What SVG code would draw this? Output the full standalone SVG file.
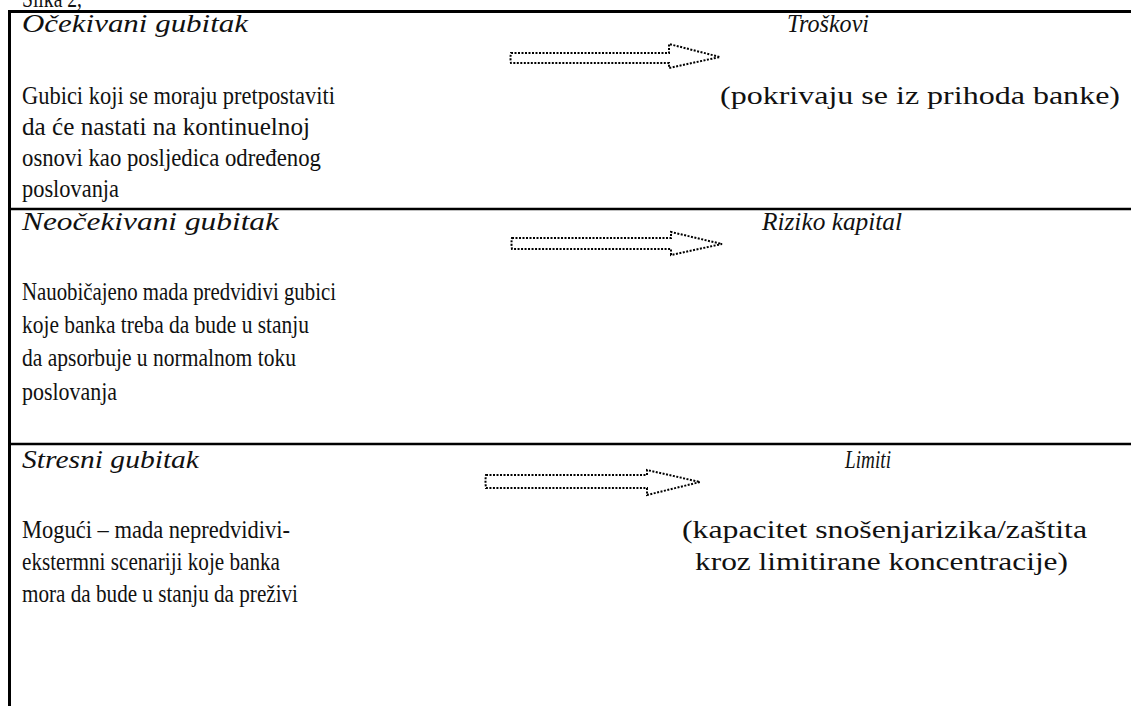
<svg xmlns="http://www.w3.org/2000/svg" width="1131" height="706" viewBox="0 0 1131 706">
<style>
.t{font-family:"Liberation Serif","Times New Roman",serif;font-size:25px;fill:#111}
.i{font-style:italic}
.rule{stroke:#000;fill:none}
.arr{fill:none;stroke:#000;stroke-width:2;stroke-dasharray:2 1.5}
</style>
<rect width="1131" height="706" fill="#fff"/>
<g id="frame">
<text class="t" x="22" y="7" textLength="60" lengthAdjust="spacingAndGlyphs">Slika 2,</text>
<line class="rule" x1="8" y1="11.5" x2="1131" y2="11.5" stroke-width="3"/>
<line class="rule" x1="9.5" y1="10" x2="9.5" y2="706" stroke-width="3"/>
<line class="rule" x1="8" y1="209" x2="1131" y2="209" stroke-width="2.5"/>
<line class="rule" x1="8" y1="444" x2="1131" y2="444" stroke-width="2.5"/>
</g>
<g id="ocekivani">
<text class="t i" x="22" y="32" textLength="226" lengthAdjust="spacingAndGlyphs">Očekivani gubitak</text>
<text class="t" x="22" y="104" textLength="313" lengthAdjust="spacingAndGlyphs">Gubici koji se moraju pretpostaviti</text>
<text class="t" x="22" y="135" textLength="288" lengthAdjust="spacingAndGlyphs">da će nastati na kontinuelnoj</text>
<text class="t" x="22" y="166" textLength="299" lengthAdjust="spacingAndGlyphs">osnovi kao posljedica određenog</text>
<text class="t" x="22" y="197" textLength="97" lengthAdjust="spacingAndGlyphs">poslovanja</text>
</g>
<g id="troskovi">
<text class="t i" x="787" y="32" textLength="82" lengthAdjust="spacingAndGlyphs">Troškovi</text>
<text class="t" x="720" y="104" textLength="400" lengthAdjust="spacingAndGlyphs">(pokrivaju se iz prihoda banke)</text>
</g>
<g id="neocekivani">
<text class="t i" x="22" y="230" textLength="257" lengthAdjust="spacingAndGlyphs">Neočekivani gubitak</text>
<text class="t" x="22" y="300" textLength="314" lengthAdjust="spacingAndGlyphs">Nauobičajeno mada predvidivi gubici</text>
<text class="t" x="22" y="333" textLength="287" lengthAdjust="spacingAndGlyphs">koje banka  treba da bude u stanju</text>
<text class="t" x="22" y="366" textLength="274" lengthAdjust="spacingAndGlyphs">da apsorbuje u normalnom toku</text>
<text class="t" x="22" y="400" textLength="95" lengthAdjust="spacingAndGlyphs">poslovanja</text>
</g>
<g id="riziko">
<text class="t i" x="762" y="230" textLength="140" lengthAdjust="spacingAndGlyphs">Riziko kapital</text>
</g>
<g id="stresni">
<text class="t i" x="22" y="468" textLength="177" lengthAdjust="spacingAndGlyphs">Stresni gubitak</text>
<text class="t" x="22" y="538" textLength="268" lengthAdjust="spacingAndGlyphs">Mogući – mada nepredvidivi-</text>
<text class="t" x="22" y="570" textLength="258" lengthAdjust="spacingAndGlyphs">ekstermni scenariji koje banka</text>
<text class="t" x="22" y="602" textLength="276" lengthAdjust="spacingAndGlyphs">mora da bude u stanju da preživi</text>
</g>
<g id="limiti">
<text class="t i" x="845" y="468" textLength="46" lengthAdjust="spacingAndGlyphs">Limiti</text>
<text class="t" x="682" y="538" textLength="405" lengthAdjust="spacingAndGlyphs">(kapacitet snošenjarizika/zaštita</text>
<text class="t" x="695" y="570" textLength="373" lengthAdjust="spacingAndGlyphs">kroz limitirane koncentracije)</text>
</g>
<g id="connectors">
<path class="arr" d="M511,53 L669,53 L669,44 L720,57 L669,68 L669,63 L511,63 Q510,58 511,53 Z"/>
<path class="arr" d="M512,238 L671,238 L671,232 L722,244 L671,255 L671,249 L512,249 Q511,243 512,238 Z"/>
<path class="arr" d="M486,475 L647,475 L647,470 L700,482 L647,495 L647,488 L486,488 Q485,481 486,475 Z"/>
</g>
</svg>
